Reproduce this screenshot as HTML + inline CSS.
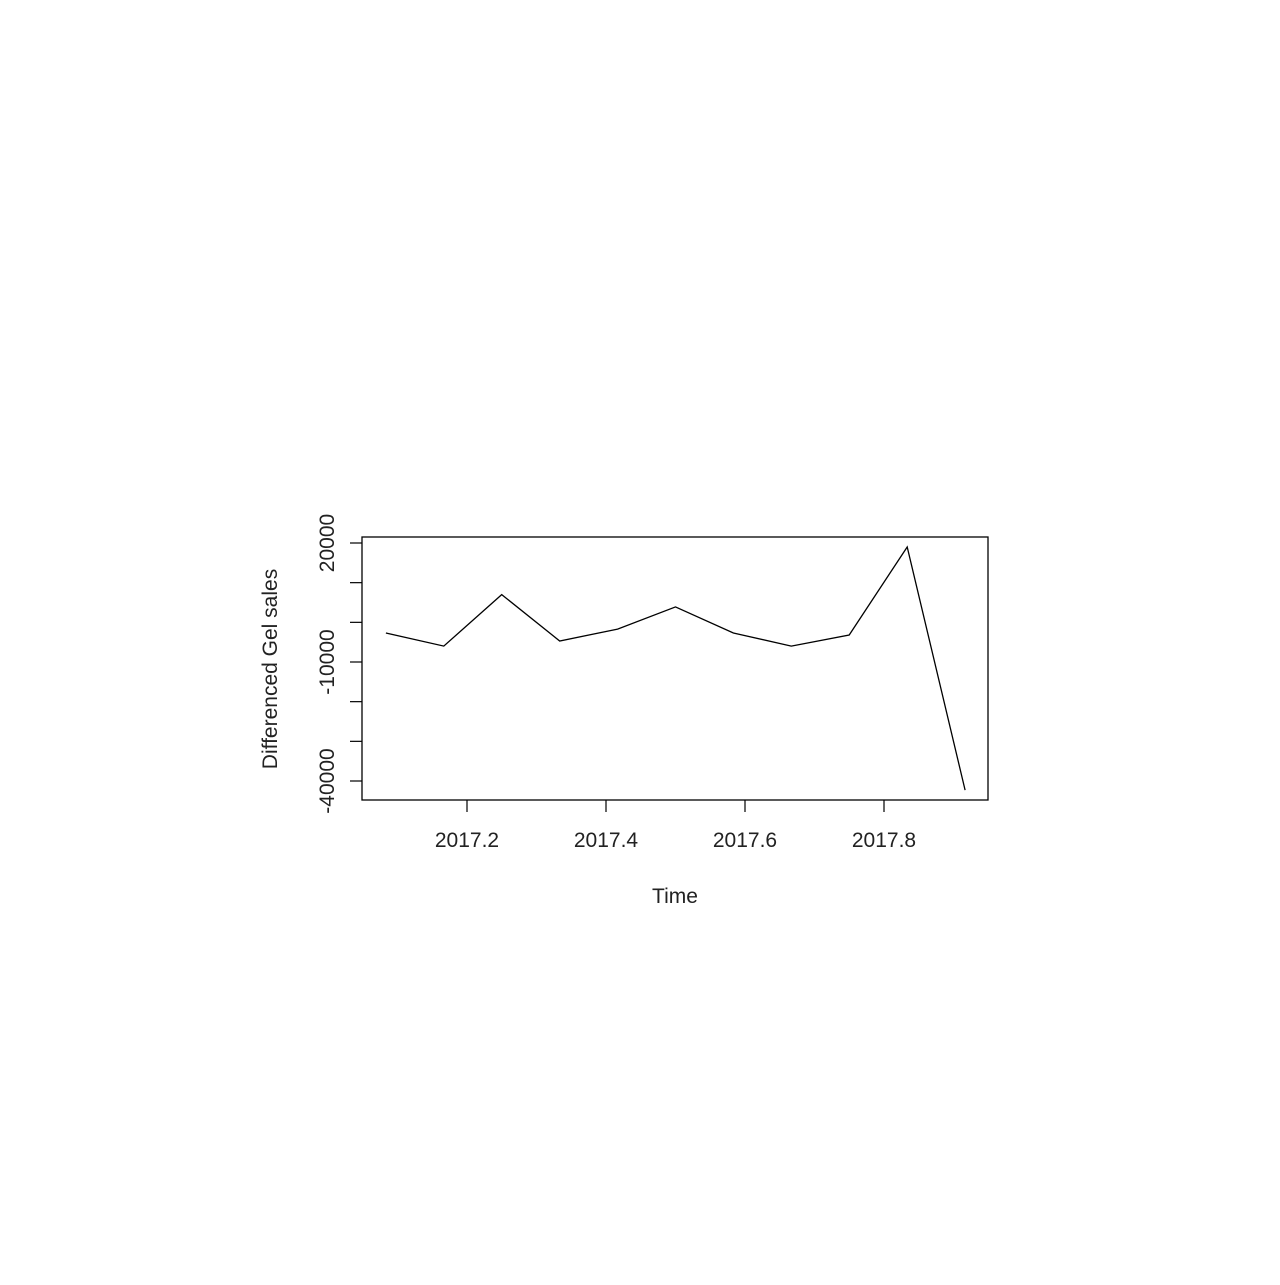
<!DOCTYPE html>
<html><head><meta charset="utf-8"><style>
body{margin:0;background:#fff;}
svg text{font-family:"Liberation Sans",Arial,sans-serif;fill:#222;}
</style></head><body>
<svg id="chart" width="1280" height="1280" xmlns="http://www.w3.org/2000/svg">
<rect width="1280" height="1280" fill="#fff"/>
<g id="g"></g>
</svg>
<script>
const months = [1,2,3,4,5,6,7,8,9,10,11];
const values = [-2700,-6000,7000,-4700,-1700,3900,-2700,-6000,-3200,19000,-42300];
const yTicks = [20000,10000,0,-10000,-20000,-30000,-40000];
const yLabels = ["20000","-10000","-40000"];
const xTicks = [2017.2,2017.4,2017.6,2017.8];

const NS="http://www.w3.org/2000/svg";
const g=document.getElementById('g');
function X(t){return 467+(t-2017.2)*695;}
function Y(v){return 543+(20000-v)*119/30000;}
function mk(tag,attrs){const e=document.createElementNS(NS,tag);for(const k in attrs)e.setAttribute(k,attrs[k]);g.appendChild(e);return e;}

const box=mk('rect',{x:362,y:537,width:626,height:263,fill:'none',stroke:'#000','stroke-width':1.3});



yTicks.forEach(v=>{
  const l=mk('line',{x1:350,x2:362,y1:Y(v),y2:Y(v),stroke:'#000','stroke-width':1.2});
  
  
});
yLabels.forEach(s=>{
  const v=+s;
  const t=mk('text',{x:0,y:0,'font-size':21,'text-anchor':'middle',transform:`translate(334,${Y(v)}) rotate(-90)`});
  t.textContent=s;
  
  
});
xTicks.forEach(v=>{
  const l=mk('line',{x1:X(v),x2:X(v),y1:800,y2:812,stroke:'#000','stroke-width':1.2});
  
  
  const t=mk('text',{x:X(v),y:847,'font-size':21,'text-anchor':'middle'});
  t.textContent=v.toFixed(1);
  
  
});
const pts=months.map((m,i)=>X(2017+m/12).toFixed(1)+','+Y(values[i]).toFixed(1)).join(' ');
const pl=mk('polyline',{points:pts,fill:'none',stroke:'#000','stroke-width':1.3});



const xt=mk('text',{x:675,y:903,'font-size':21,'text-anchor':'middle'});
xt.textContent='Time';


const yt=mk('text',{x:0,y:0,'font-size':21,'text-anchor':'middle',transform:'translate(277,669) rotate(-90)'});
yt.textContent='Differenced Gel sales';


</script>
</body></html>
